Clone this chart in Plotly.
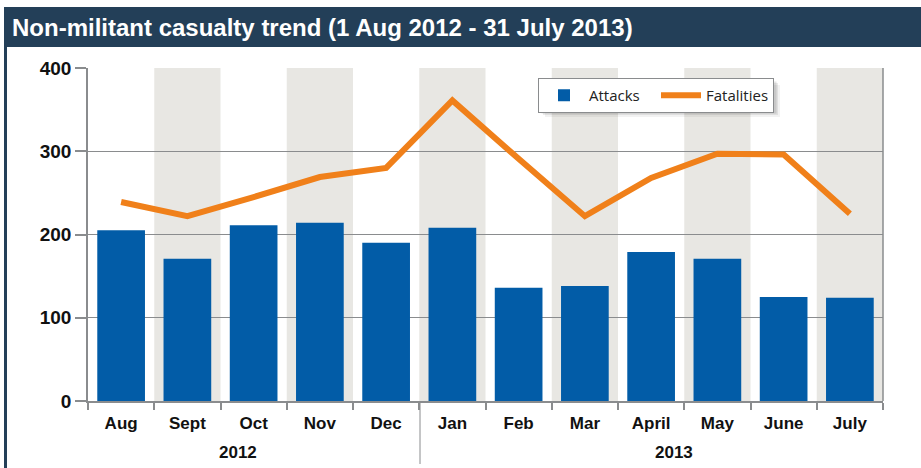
import plotly.graph_objects as go

months = ["Aug", "Sept", "Oct", "Nov", "Dec", "Jan", "Feb", "Mar", "April", "May", "June", "July"]
years = ["2012", "2013"]
attacks = [205, 171, 211, 214, 190, 208, 136, 138, 179, 171, 125, 124]
fatalities = [239, 222, 245, 269, 280, 361, 291, 222, 268, 297, 296, 225]
y_ticks = [0, 100, 200, 300, 400]

W, H = 921, 468
L, R, T, B = 88, 38, 68, 67
pw, ph = W - L - R, H - T - B


def px(x):
    return (x - L) / pw


def py(y):
    return (H - B - y) / ph


fig = go.Figure()
fig.add_trace(go.Bar(x=months, y=attacks, name="Attacks", marker=dict(color="#025ca7", line=dict(width=0))))
fig.add_trace(go.Scatter(x=months, y=fatalities, name="Fatalities", mode="lines",
                         line=dict(color="#f0801a", width=6)))

shapes = []
# alternating shaded columns
for i in range(1, len(months), 2):
    shapes.append(dict(type="rect", xref="x", yref="paper", x0=i - 0.5, x1=i + 0.5, y0=0, y1=1,
                       fillcolor="#e8e7e3", line=dict(width=0), layer="below"))
# title bar
shapes.append(dict(type="rect", xref="paper", yref="paper", x0=px(4), x1=px(925), y0=py(47), y1=py(7),
                   fillcolor="#233f58", line=dict(width=0)))
# left frame line
shapes.append(dict(type="line", xref="paper", yref="paper", x0=px(5.5), x1=px(5.5), y0=py(470), y1=py(47),
                   line=dict(color="#233f58", width=3)))
# year divider
shapes.append(dict(type="line", xref="paper", yref="paper", x0=px(420), x1=px(420), y0=py(401), y1=py(464),
                   line=dict(color="#8a8c8e", width=1)))
# right border
shapes.append(dict(type="line", xref="paper", yref="paper", x0=1, x1=1, y0=0, y1=1,
                   line=dict(color="#8a8c8e", width=1.5)))
# legend soft shadow
for off, op in [(5, 0.05), (3, 0.08), (1.5, 0.1)]:
    shapes.append(dict(type="rect", xref="paper", yref="paper",
                       x0=px(540 + off), x1=px(775 + off), y0=py(112 + off), y1=py(80 + off),
                       fillcolor="rgba(0,0,0,%.2f)" % op, line=dict(width=0), layer="above"))

annotations = [
    dict(text="Non-militant casualty trend (1 Aug 2012 - 31 July 2013)", xref="paper", yref="paper",
         x=px(10), y=py(27), xanchor="left", yanchor="middle", showarrow=False,
         font=dict(family="Liberation Sans, Arial", size=24, color="white", weight=600)),
    dict(text=years[0], xref="paper", yref="paper", x=px(238), y=py(452), showarrow=False,
         xanchor="center", yanchor="middle",
         font=dict(family="Liberation Sans, Arial", size=17, color="#111", weight="bold")),
    dict(text=years[1], xref="paper", yref="paper", x=px(674), y=py(452), showarrow=False,
         xanchor="center", yanchor="middle",
         font=dict(family="Liberation Sans, Arial", size=17, color="#111", weight="bold")),
]

fig.update_layout(
    width=W, height=H,
    margin=dict(l=L, r=R, t=T, b=B, pad=0),
    paper_bgcolor="white", plot_bgcolor="white",
    bargap=0.28,
    shapes=shapes, annotations=annotations,
    legend=dict(orientation="h", x=px(538), y=py(78), xanchor="left", yanchor="top",
                bgcolor="white", bordercolor="#8a8c8e", borderwidth=1,
                font=dict(family="Open Sans, Noto Sans", size=15, color="#222"),
                itemwidth=40, entrywidth=62),
    showlegend=True,
)
fig.update_xaxes(type="category", tickson="boundaries", ticks="outside", ticklen=7, tickcolor="#8a8c8e",
                 tickwidth=1.5, showline=True, linecolor="#8a8c8e", linewidth=1.5, showgrid=False,
                 ticklabelstandoff=6,
                 tickfont=dict(family="Liberation Sans, Arial", size=17, color="#111", weight="bold"),
                 range=[-0.5, 11.5])
fig.update_yaxes(range=[0, 400], tickvals=y_ticks, ticks="outside", ticklen=11, tickcolor="#8a8c8e",
                 tickwidth=1.5, showline=True, linecolor="#8a8c8e", linewidth=1.5,
                 showgrid=True, gridcolor="#8a8c8e", gridwidth=1.2, zeroline=False,
                 tickfont=dict(family="Liberation Sans, Arial", size=19, color="#111", weight="bold"))

fig.write_html("out.html", config={"displayModeBar": False},
               post_script="document.body.style.margin='0px';")
